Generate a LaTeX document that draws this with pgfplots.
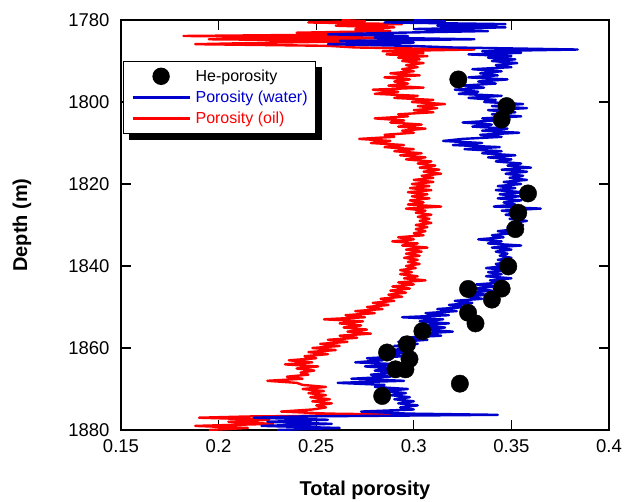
\documentclass[border=0pt]{standalone}
\usepackage{fontspec}
\setmainfont{Liberation Sans}
\usepackage{pgfplots}
\pgfplotsset{compat=1.18}
\usetikzlibrary{backgrounds}
\definecolor{wblue}{RGB}{0,0,205}
\definecolor{ored}{RGB}{255,0,0}
\begin{document}
\begin{tikzpicture}
\path[use as bounding box] (-121pt,-72pt) rectangle (505pt,430pt);
\begin{axis}[
  at={(0pt,0pt)}, anchor=south west,
  scale only axis, width=488pt, height=410pt,
  xmin=0.15, xmax=0.4, ymin=1780, ymax=1880, y dir=reverse,
  axis line style={line width=1.2pt},
  tick style={black, line width=1.2pt},
  major tick length=10pt, tick align=inside,
  xtick={0.15,0.2,0.25,0.3,0.35,0.4},
  xticklabels={0.15,0.2,0.25,0.3,0.35,0.4},
  ytick={1780,1800,1820,1840,1860,1880},
  yticklabels={1780,1800,1820,1840,1860,1880},
  /pgf/number format/assume math mode=true,
  ticklabel style={font=\fontsize{18.5}{22}\selectfont},
  yticklabel style={xshift=-8pt},
  xticklabel style={yshift=-6pt},
  xlabel={Total porosity}, ylabel={Depth (m)},
  label style={font=\fontsize{20}{23}\selectfont\bfseries},
  xlabel style={at={(axis description cs:0.5,-0.1463)}, anchor=center},
  ylabel style={at={(axis description cs:-0.2029,0.5)}, anchor=center},
  legend style={name=leg, at={(axis description cs:0.0041,0.9)}, anchor=north west,
    draw=black, line width=1.2pt, fill=white,
    font=\fontsize{16}{19}\selectfont,
    nodes={inner ysep=2pt}, row sep=4pt, inner ysep=6pt, inner xsep=6pt,
    cells={anchor=west}},
  legend image code/.code={\path[draw=none,fill=none] (0pt,0pt) -- (64pt,0pt);
    \draw[mark repeat=2,mark phase=2,#1] plot coordinates {(3pt,0pt) (31.5pt,0pt) (60pt,0pt)};},
]
\addlegendimage{black, legend image code/.code={\path[draw=none,fill=none] (0pt,-7pt) rectangle (64pt,7pt);
    \fill[black, draw=none] (31.5pt,0pt) circle (8.7pt);}}
\addlegendentry{He-porosity}
\addlegendimage{wblue, line width=2.6pt}
\addlegendentry{\textcolor{wblue}{Porosity (water)}}
\addlegendimage{ored, line width=2.6pt}
\addlegendentry{\textcolor{ored}{Porosity (oil)}}

% Porosity (oil)
\addplot[ored, line width=2.4pt, line join=round, forget plot] coordinates {
(0.263,1780.0) (0.275,1780.3) (0.246,1780.6) (0.294,1781.0) (0.260,1781.4) (0.290,1781.8)
(0.270,1782.2) (0.288,1782.7) (0.240,1783.1) (0.275,1783.5) (0.182,1783.9) (0.285,1784.3)
(0.195,1784.7) (0.284,1785.1) (0.230,1785.5) (0.188,1785.9) (0.256,1786.3) (0.270,1786.7)
(0.331,1787.2) (0.284,1787.6) (0.305,1788.0) (0.286,1788.4) (0.307,1788.8) (0.292,1789.2)
(0.303,1789.6) (0.294,1790.0) (0.305,1790.5) (0.296,1791.0) (0.302,1791.5) (0.294,1792.0)
(0.300,1792.5) (0.288,1793.0) (0.303,1793.5) (0.285,1794.0) (0.298,1794.5) (0.290,1795.0)
(0.297,1795.5) (0.287,1796.0) (0.305,1796.5) (0.279,1797.0) (0.292,1797.5) (0.280,1798.0)
(0.302,1798.5) (0.290,1799.0) (0.310,1799.5) (0.299,1800.0) (0.316,1800.5) (0.302,1801.0)
(0.312,1801.5) (0.300,1802.0) (0.310,1802.5) (0.292,1803.0) (0.297,1803.5) (0.280,1804.0)
(0.295,1804.5) (0.288,1805.0) (0.304,1805.5) (0.292,1806.0) (0.306,1806.5) (0.294,1807.0)
(0.300,1807.5) (0.285,1808.0) (0.290,1808.5) (0.272,1809.0) (0.288,1809.5) (0.278,1810.0)
(0.295,1810.5) (0.285,1811.0) (0.300,1811.5) (0.290,1812.0) (0.304,1812.5) (0.293,1813.0)
(0.306,1813.5) (0.296,1814.0) (0.309,1814.5) (0.302,1815.0) (0.311,1815.5) (0.303,1816.0)
(0.313,1816.5) (0.305,1817.0) (0.314,1817.5) (0.304,1818.0) (0.310,1818.5) (0.300,1819.0)
(0.310,1819.5) (0.299,1820.0) (0.308,1820.5) (0.298,1821.0) (0.309,1821.5) (0.297,1822.0)
(0.307,1822.5) (0.299,1823.0) (0.308,1823.5) (0.298,1824.0) (0.305,1824.5) (0.297,1825.0)
(0.314,1825.5) (0.296,1826.0) (0.306,1826.5) (0.301,1827.0) (0.309,1827.5) (0.302,1828.0)
(0.308,1828.5) (0.303,1829.0) (0.309,1829.5) (0.301,1830.0) (0.307,1830.5) (0.301,1831.0)
(0.306,1831.5) (0.300,1832.0) (0.305,1832.5) (0.292,1833.0) (0.300,1833.5) (0.289,1834.0)
(0.302,1834.5) (0.294,1835.0) (0.307,1835.5) (0.296,1836.0) (0.304,1836.5) (0.296,1837.0)
(0.303,1837.5) (0.295,1838.0) (0.302,1838.5) (0.297,1839.0) (0.303,1839.5) (0.296,1840.0)
(0.301,1840.5) (0.293,1841.0) (0.299,1841.5) (0.293,1842.0) (0.302,1842.5) (0.295,1843.0)
(0.306,1843.5) (0.292,1844.0) (0.300,1844.5) (0.289,1845.0) (0.298,1845.5) (0.288,1846.0)
(0.296,1846.5) (0.287,1847.0) (0.294,1847.5) (0.283,1848.0) (0.290,1848.5) (0.279,1849.0)
(0.287,1849.5) (0.276,1850.0) (0.284,1850.5) (0.270,1851.0) (0.280,1851.5) (0.265,1852.0)
(0.275,1852.5) (0.254,1853.0) (0.274,1853.5) (0.262,1854.0) (0.273,1854.5) (0.264,1855.0)
(0.276,1855.5) (0.266,1856.0) (0.278,1856.5) (0.262,1857.0) (0.271,1857.5) (0.256,1858.0)
(0.266,1858.5) (0.252,1859.0) (0.262,1859.5) (0.248,1860.0) (0.260,1860.5) (0.246,1861.0)
(0.256,1861.5) (0.244,1862.0) (0.250,1862.5) (0.236,1863.0) (0.248,1863.5) (0.234,1864.0)
(0.251,1864.5) (0.240,1865.0) (0.249,1865.5) (0.242,1866.0) (0.246,1866.5) (0.235,1867.0)
(0.243,1867.5) (0.225,1868.0) (0.240,1868.5) (0.243,1869.0) (0.255,1869.5) (0.243,1870.0)
(0.254,1870.5) (0.246,1871.0) (0.255,1871.5) (0.247,1872.0) (0.257,1872.5) (0.248,1873.0)
(0.258,1873.5) (0.250,1874.0) (0.255,1874.5) (0.248,1875.0) (0.232,1875.5) (0.256,1876.0)
(0.302,1876.3) (0.215,1876.7) (0.190,1877.0) (0.226,1877.5) (0.205,1878.0) (0.228,1878.5)
(0.188,1879.0) (0.215,1879.5) (0.195,1880.0)
};

% Porosity (water)
\addplot[wblue, line width=2.4pt, line join=round, forget plot] coordinates {
(0.300,1780.0) (0.316,1780.3) (0.285,1780.6) (0.347,1781.0) (0.312,1781.4) (0.347,1781.8)
(0.300,1782.2) (0.338,1782.7) (0.292,1783.1) (0.256,1783.5) (0.297,1783.9) (0.280,1784.3)
(0.331,1784.7) (0.262,1785.1) (0.300,1785.5) (0.256,1785.9) (0.297,1786.3) (0.320,1786.7)
(0.384,1787.2) (0.335,1787.6) (0.355,1788.0) (0.328,1788.4) (0.350,1788.8) (0.338,1789.2)
(0.352,1789.6) (0.340,1790.0) (0.353,1790.5) (0.342,1791.0) (0.350,1791.5) (0.330,1792.0)
(0.345,1792.5) (0.334,1793.0) (0.343,1793.5) (0.328,1794.0) (0.348,1794.5) (0.333,1795.0)
(0.342,1795.5) (0.325,1796.0) (0.336,1796.5) (0.321,1797.0) (0.333,1797.5) (0.323,1798.0)
(0.345,1798.5) (0.328,1799.0) (0.342,1799.5) (0.336,1800.0) (0.356,1800.5) (0.340,1801.0)
(0.358,1801.5) (0.338,1802.0) (0.352,1802.5) (0.340,1803.0) (0.355,1803.5) (0.335,1804.0)
(0.342,1804.5) (0.325,1805.0) (0.340,1805.5) (0.330,1806.0) (0.348,1806.5) (0.335,1807.0)
(0.354,1807.5) (0.334,1808.0) (0.345,1808.5) (0.325,1809.0) (0.315,1809.5) (0.335,1810.0)
(0.320,1810.5) (0.344,1811.0) (0.326,1811.5) (0.345,1812.0) (0.335,1812.5) (0.352,1813.0)
(0.338,1813.5) (0.350,1814.0) (0.342,1814.5) (0.355,1815.0) (0.348,1815.5) (0.360,1816.0)
(0.345,1816.5) (0.358,1817.0) (0.347,1817.5) (0.356,1818.0) (0.349,1818.5) (0.358,1819.0)
(0.346,1819.5) (0.355,1820.0) (0.343,1820.5) (0.352,1821.0) (0.342,1821.5) (0.356,1822.0)
(0.344,1822.5) (0.354,1823.0) (0.343,1823.5) (0.355,1824.0) (0.346,1824.5) (0.352,1825.0)
(0.341,1825.5) (0.365,1826.0) (0.345,1826.5) (0.356,1827.0) (0.347,1827.5) (0.357,1828.0)
(0.349,1828.5) (0.358,1829.0) (0.350,1829.5) (0.356,1830.0) (0.348,1830.5) (0.353,1831.0)
(0.343,1831.5) (0.350,1832.0) (0.340,1832.5) (0.346,1833.0) (0.333,1833.5) (0.345,1834.0)
(0.338,1834.5) (0.355,1835.0) (0.340,1835.5) (0.350,1836.0) (0.342,1836.5) (0.348,1837.0)
(0.344,1837.5) (0.350,1838.0) (0.343,1838.5) (0.349,1839.0) (0.342,1839.5) (0.347,1840.0)
(0.337,1840.5) (0.348,1841.0) (0.338,1841.5) (0.345,1842.0) (0.337,1842.5) (0.350,1843.0)
(0.339,1843.5) (0.346,1844.0) (0.332,1844.5) (0.342,1845.0) (0.330,1845.5) (0.340,1846.0)
(0.329,1846.5) (0.337,1847.0) (0.328,1847.5) (0.335,1848.0) (0.321,1848.5) (0.330,1849.0)
(0.318,1849.5) (0.327,1850.0) (0.312,1850.5) (0.322,1851.0) (0.306,1851.5) (0.318,1852.0)
(0.294,1852.5) (0.315,1853.0) (0.303,1853.5) (0.318,1854.0) (0.302,1854.5) (0.316,1855.0)
(0.305,1855.5) (0.320,1856.0) (0.304,1856.5) (0.314,1857.0) (0.294,1857.5) (0.307,1858.0)
(0.292,1858.5) (0.302,1859.0) (0.290,1859.5) (0.300,1860.0) (0.288,1860.5) (0.298,1861.0)
(0.286,1861.5) (0.295,1862.0) (0.276,1862.5) (0.284,1863.0) (0.270,1863.5) (0.294,1864.0)
(0.275,1864.5) (0.290,1865.0) (0.280,1865.5) (0.292,1866.0) (0.278,1866.5) (0.288,1867.0)
(0.268,1867.5) (0.295,1868.0) (0.261,1868.5) (0.285,1869.0) (0.280,1869.5) (0.297,1870.0)
(0.285,1870.5) (0.296,1871.0) (0.288,1871.5) (0.298,1872.0) (0.290,1872.5) (0.300,1873.0)
(0.292,1873.5) (0.302,1874.0) (0.293,1874.5) (0.300,1875.0) (0.273,1875.5) (0.297,1876.0)
(0.343,1876.3) (0.240,1876.7) (0.218,1877.0) (0.256,1877.5) (0.225,1878.0) (0.258,1878.5)
(0.222,1879.0) (0.262,1879.5) (0.230,1880.0)
};

% He-porosity
\addplot[only marks, mark=*, mark size=8.7pt, black, forget plot] coordinates {
(0.3228,1794.5) (0.3475,1801.0) (0.3450,1804.3) (0.3585,1822.3) (0.3535,1827.0)
(0.3520,1831.0) (0.3484,1840.1) (0.3450,1845.5) (0.3278,1845.6) (0.3400,1848.2)
(0.3278,1851.4) (0.3316,1854.0) (0.3044,1855.9) (0.2965,1859.1) (0.2863,1861.1)
(0.2978,1862.7) (0.2906,1865.2) (0.2957,1865.2) (0.3236,1868.7) (0.2838,1871.7)
};
\end{axis}
\begin{pgfonlayer}{background}
\fill[black] ([xshift=6pt,yshift=-6pt]leg.south west) rectangle ([xshift=6pt,yshift=-6pt]leg.north east);
\end{pgfonlayer}
\end{tikzpicture}
\end{document}
